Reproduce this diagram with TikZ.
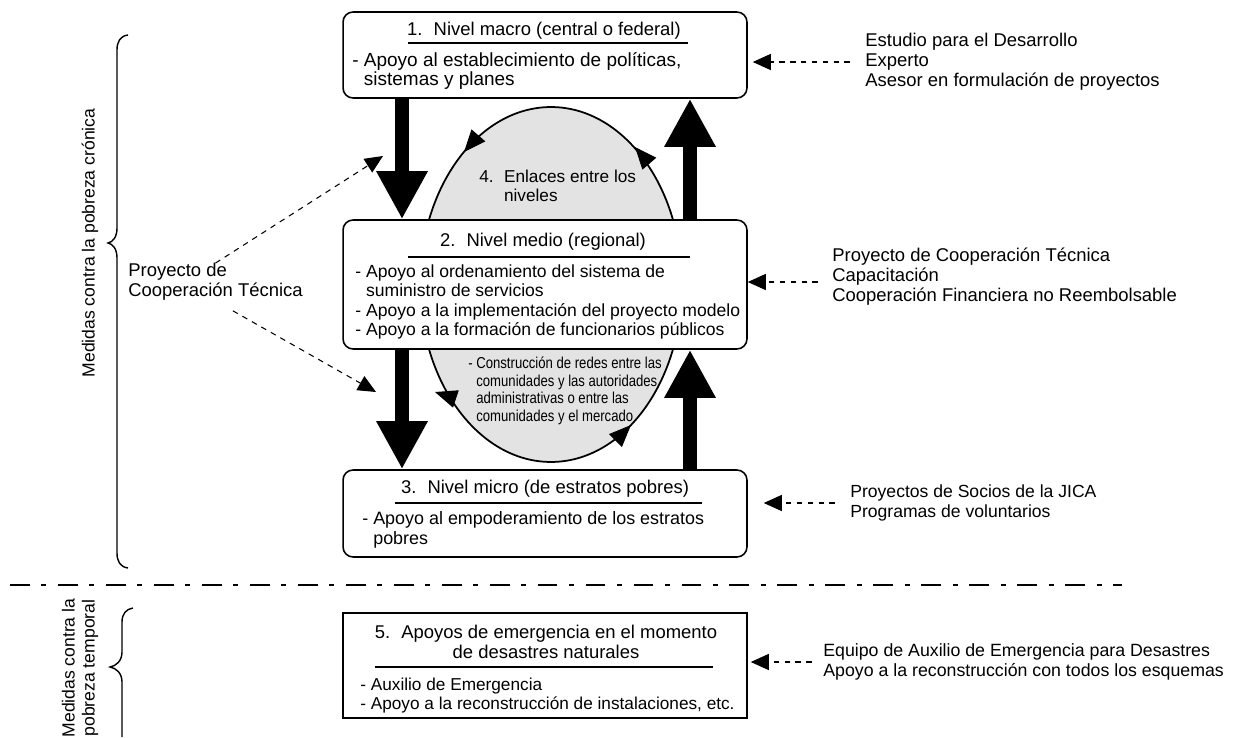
\documentclass[tikz,border=0pt]{standalone}
\usepackage{fontspec}
\setmainfont{Liberation Sans}
\newfontfamily\narrowfont[FakeStretch=0.83]{Liberation Sans}
\usetikzlibrary{arrows.meta}

\begin{document}
\begin{tikzpicture}[x=0.02cm, y=-0.02cm,
	every node/.style={font=\fontsize{10.5}{11.4}\selectfont, inner sep=0pt},
	level/.style={draw, line width=0.9pt, rounded corners=0.2cm, fill=white, minimum width=8.08cm},
	txt/.style={anchor=west, align=left},
	bigarrow/.style={line width=0.28cm, -{Triangle[width=0.96cm,length=0.96cm]}},
	dasharrow/.style={line width=0.6pt, dash pattern=on 3.2pt off 3pt, -{Triangle[width=0.32cm,length=0.36cm]}},
	ringtip/.style={line width=0.6pt, -{Triangle[width=0.36cm,length=0.44cm]}},
	brace/.style={line width=0.8pt}]

	\useasboundingbox (0,0) rectangle (1260,737);

	% Enlaces entre los niveles
	\draw[line width=1pt, fill=gray!22] (551,284.5) ellipse [x radius=2.62cm, y radius=3.55cm];
	\node[txt, font=\fontsize{9.8}{10.6}\selectfont] (enlaces) at (479,186) {4.\hspace{0.6em}Enlaces entre los\\\phantom{4.\hspace{0.6em}}niveles};
	\node[txt, font=\narrowfont\fontsize{9}{10}\selectfont] (redes) at (468,391)
		{- Construcción de redes entre las\\\phantom{- }comunidades y las autoridades\\\phantom{- }administrativas o entre las\\\phantom{- }comunidades y el mercado};
	\draw[ringtip] (477,137) -- (464,152);
	\draw[ringtip] (647,161) -- (635,147);
	\draw[ringtip] (453,398) -- (435,392);
	\draw[ringtip] (616,440) -- (631,425);

	% Nivel macro
	\node[level, minimum height=1.72cm] (macro) at (545,55) {};
	\node (macrot) at (544,31) {1.\hspace{0.6em}Nivel macro (central o federal)};
	\draw[line width=0.6pt] (408,43) -- (688,43);
	\node[txt, font=\fontsize{10.8}{11.2}\selectfont] (macrob) at (352,71) {- Apoyo al establecimiento de políticas,\\\phantom{- }sistemas y planes};

	% Nivel medio
	\node[level, minimum height=2.58cm] (medio) at (545,284.5) {};
	\node (mediot) at (543,242) {2.\hspace{0.6em}Nivel medio (regional)};
	\draw[line width=0.6pt] (408,257) -- (690,257);
	\node[txt, font=\fontsize{10}{11}\selectfont] (mediob) at (355,302) {- Apoyo al ordenamiento del sistema de\\\phantom{- }suministro de servicios\\- Apoyo a la implementación del proyecto modelo\\- Apoyo a la formación de funcionarios públicos};

	% Nivel micro
	\node[level, minimum height=1.74cm] (micro) at (545,513.5) {};
	\node (microt) at (545,489) {3.\hspace{0.6em}Nivel micro (de estratos pobres)};
	\draw[line width=0.6pt] (395,503) -- (702,503);
	\node[txt, font=\fontsize{10.2}{11}\selectfont] (microb) at (362,530) {- Apoyo al empoderamiento de los estratos\\\phantom{- }pobres};

	% Emergencia
	\node[level, sharp corners, minimum height=2.1cm] (emerg) at (545,665.5) {};
	\node[align=center] (emergt) at (546,642) {5.\hspace{0.6em}Apoyos de emergencia en el momento\\de desastres naturales};
	\draw[line width=0.6pt] (375,667) -- (713,667);
	\node[txt, font=\fontsize{9.8}{11}\selectfont] (emergb) at (360,695.5) {- Auxilio de Emergencia\\- Apoyo a la reconstrucción de instalaciones, etc.};

	% flechas entre niveles
	\coordinate (dn) at (402,0);
	\coordinate (up) at (690,0);
	\draw[bigarrow] (macro.south -| dn) -- (medio.north -| dn);
	\draw[bigarrow] (medio.north -| up) -- (macro.south -| up);
	\draw[bigarrow] (medio.south -| dn) -- (micro.north -| dn);
	\draw[bigarrow] (micro.north -| up) -- (medio.south -| up);

	% esquemas a la derecha
	\node[txt] (estudio) at (865,62) {Estudio para el Desarrollo\\Experto\\Asesor en formulación de proyectos};
	\node[txt] (coop) at (832,277) {Proyecto de Cooperación Técnica\\Capacitación\\Cooperación Financiera no Reembolsable};
	\node[txt, font=\fontsize{10}{11.4}\selectfont] (socios) at (850,503) {Proyectos de Socios de la JICA\\Programas de voluntarios};
	\node[txt, font=\fontsize{10.1}{11.4}\selectfont] (auxilio) at (823,662) {Equipo de Auxilio de Emergencia para Desastres\\Apoyo a la reconstrucción con todos los esquemas};
	\draw[dasharrow, shorten <=0.3cm, shorten >=0.1cm] (estudio.west) -- (estudio.west -| macro.east);
	\draw[dasharrow, shorten <=0.28cm] ([yshift=-0.1cm]coop.west) -- ([yshift=-0.1cm]coop.west -| medio.east);
	\draw[dasharrow, shorten <=0.3cm, shorten >=0.32cm] (socios.west) -- (socios.west -| micro.east);
	\draw[dasharrow, shorten <=0.22cm, shorten >=0.06cm] (auxilio.west) -- (auxilio.west -| emerg.east);

	% Proyecto de Cooperacion Tecnica (izquierda)
	\node[txt] (pct) at (128,282) {Proyecto de\\Cooperación Técnica};
	\coordinate (pctup) at (383,156);
	\coordinate (pctdn) at (376,392);
	\draw[dasharrow] (pct.north) -- (pctup);
	\draw[dasharrow, shorten <=0.4cm] (pct.south) -- (pctdn);

	% llaves y separador
	\draw[brace] (128,35) .. controls (120,36) and (117,42) .. (117,50) -- (117,228)
		.. controls (117,237) and (113,242) .. (108,243) .. controls (113,244) and (117,249) .. (117,258)
		-- (117,553) .. controls (117,561) and (120,567) .. (128,568);
	\node[rotate=90, font=\fontsize{10}{11}\selectfont] (cronica) at (90,243) {Medidas contra la pobreza crónica};
	\draw[line width=0.75pt, dash pattern=on 11.3pt off 6.6pt on 2.8pt off 6.6pt] (10,585) -- (1122,585);
	\draw[brace] (133,608) .. controls (126,609) and (122,614) .. (122,622) -- (122,652)
		.. controls (122,661) and (116,666) .. (110,667) .. controls (116,668) and (122,673) .. (122,682) -- (122,737);
	\node[rotate=90, align=center, font=\fontsize{10}{11.4}\selectfont] (temporal) at (80,668) {Medidas contra la\\pobreza temporal};
\end{tikzpicture}
\end{document}
